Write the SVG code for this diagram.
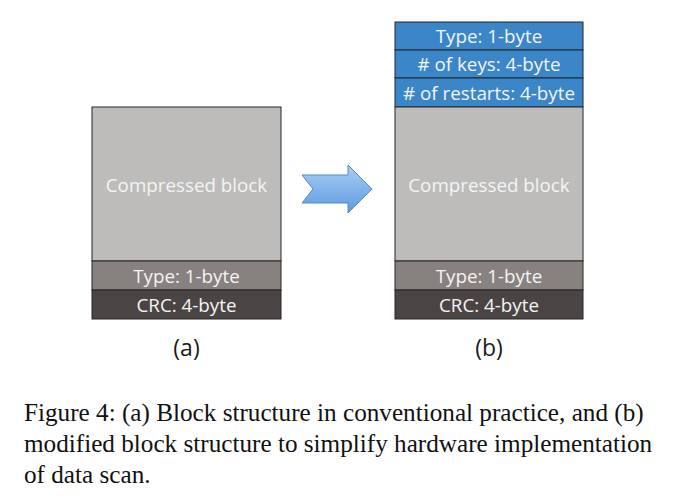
<svg xmlns="http://www.w3.org/2000/svg" width="678" height="504" viewBox="0 0 678 504">
<defs>
<linearGradient id="ag" x1="0" y1="0" x2="0" y2="1">
<stop offset="0" stop-color="#a9cdf5"/>
<stop offset="1" stop-color="#5e9ae0"/>
</linearGradient>
<style>
rect{stroke:#262626;stroke-width:1}
.comp{fill:#bdbcbb}
.type{fill:#87827f}
.crc{fill:#4a4544}
.blue{fill:#3a86c8}
.lbl{font-family:"Open Sans","Liberation Sans",sans-serif;font-size:18.8px;fill:#f4f4f4;text-anchor:middle}
.sub{font-family:"Open Sans","Liberation Sans",sans-serif;font-size:23px;fill:#1a1a1a;text-anchor:middle}
.cap{font-family:"Liberation Serif",serif;font-size:25.2px;fill:#111}
</style>
</defs>
<g id="blockA">
<rect class="comp" x="92" y="107" width="189" height="154"/>
<text class="lbl" x="186.5" y="192">Compressed block</text>
<rect class="type" x="92" y="261" width="189" height="29"/>
<text class="lbl" x="186.5" y="283">Type: 1-byte</text>
<rect class="crc" x="92" y="290" width="189" height="29"/>
<text class="lbl" x="186.5" y="312">CRC: 4-byte</text>
<text class="sub" x="186.5" y="356">(a)</text>
</g>
<g id="blockB">
<rect class="blue" x="395" y="22" width="188" height="28"/>
<text class="lbl" x="489" y="43">Type: 1-byte</text>
<rect class="blue" x="395" y="50" width="188" height="28"/>
<text class="lbl" x="489" y="71">#&#160;of keys: 4-byte</text>
<rect class="blue" x="395" y="78" width="188" height="29"/>
<text class="lbl" x="489" y="100">#&#160;of restarts: 4-byte</text>
<rect class="comp" x="395" y="107" width="188" height="154"/>
<text class="lbl" x="489" y="192">Compressed block</text>
<rect class="type" x="395" y="261" width="188" height="29"/>
<text class="lbl" x="489" y="283">Type: 1-byte</text>
<rect class="crc" x="395" y="290" width="188" height="29"/>
<text class="lbl" x="489" y="312">CRC: 4-byte</text>
<text class="sub" x="489" y="356">(b)</text>
</g>
<g id="connectors">
<path d="M302,175 L348,175 L348,165 L372,189 L348,213 L348,203 L302,203 L313,189 Z" fill="url(#ag)" stroke="#5588c8" stroke-width="1"/>
</g>
<g id="caption">
<text class="cap" x="24" y="421">Figure 4: (a) Block structure in conventional practice, and (b)</text>
<text class="cap" x="24" y="452">modified block structure to simplify hardware implementation</text>
<text class="cap" x="24" y="483">of data scan.</text>
</g>
</svg>
